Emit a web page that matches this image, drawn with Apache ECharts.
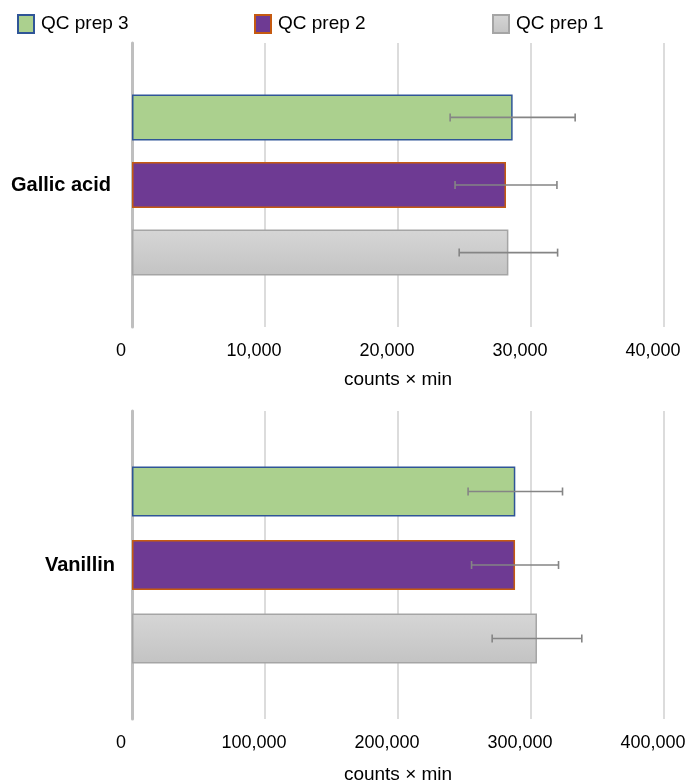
<!DOCTYPE html>
<html>
<head>
<meta charset="utf-8">
<script src="https://cdn.jsdelivr.net/npm/echarts@6/dist/echarts.min.js"></script>
<style>
  html, body { margin: 0; padding: 0; background: #fff; }
  #chart { width: 686px; height: 782px; }
</style>
</head>
<body>
<div id="chart"></div>
<script>
// data, top bar first
var seriesNames = ["QC prep 3", "QC prep 2", "QC prep 1"];

var gallicCategory = ["Gallic acid"];
var gallicValues = [28620, 28120, 28300]; // prep 3, 2, 1
var gallicErrors = [4700, 3830, 3700];
var gallicTicks = [0, 10000, 20000, 30000, 40000];

var vanillinCategory = ["Vanillin"];
var vanillinValues = [288200, 288000, 304500];
var vanillinErrors = [35500, 32700, 33700];
var vanillinTicks = [0, 100000, 200000, 300000, 400000];

var axisName = "counts × min";

var FONT = "Liberation Sans, Arial, Helvetica, sans-serif";

var styles = [
  { color: "#abd08e", borderColor: "#2f5597", borderWidth: 1.5 }, // prep 3
  { color: "#6e3a93", borderColor: "#c55a11", borderWidth: 1.5 }, // prep 2
  { // prep 1 - grey gradient
    color: new echarts.graphic.LinearGradient(0, 0, 0, 1, [
      { offset: 0, color: "#d6d6d6" },
      { offset: 1, color: "#c3c3c3" }
    ]),
    borderColor: "#a5a5a5", borderWidth: 1.5
  }
];

var chart = echarts.init(document.getElementById("chart"));

function fmt(v) {
  return Number(v).toLocaleString("en-US");
}

function buildPanel(idx, cats, values, errors, ticks, barW, labelMargin, nameGap) {
  var spacing = barW * 1.47;
  var series = [];
  seriesNames.forEach(function (name, i) {
    series.push({
      name: name,
      type: "bar",
      xAxisIndex: idx,
      yAxisIndex: idx,
      barWidth: barW,
      barGap: "47%",
      itemStyle: styles[i],
      data: [values[i]],
      z: 2
    });
  });
  // error bars
  var errData = values.map(function (v, i) {
    return [0, v - errors[i], v + errors[i], i];
  });
  series.push({
    type: "custom",
    xAxisIndex: idx,
    yAxisIndex: idx,
    z: 5,
    silent: true,
    renderItem: function (params, api) {
      var cat = api.value(0);
      var lo = api.coord([api.value(1), cat]);
      var hi = api.coord([api.value(2), cat]);
      var slot = api.value(3);
      var y = lo[1] + (slot - 1) * spacing;
      var cap = 4;
      var st = { stroke: "#858585", lineWidth: 1.6 };
      return {
        type: "group",
        children: [
          { type: "line", shape: { x1: lo[0], y1: y, x2: hi[0], y2: y }, style: st },
          { type: "line", shape: { x1: lo[0], y1: y - cap, x2: lo[0], y2: y + cap }, style: st },
          { type: "line", shape: { x1: hi[0], y1: y - cap, x2: hi[0], y2: y + cap }, style: st }
        ]
      };
    },
    data: errData
  });

  var xAxis = {
    gridIndex: idx,
    type: "value",
    min: ticks[0],
    max: ticks[ticks.length - 1],
    interval: ticks[1] - ticks[0],
    name: axisName,
    nameLocation: "middle",
    nameGap: nameGap,
    nameTextStyle: { fontFamily: FONT, fontSize: 19, color: "#000" },
    axisLine: { show: false },
    axisTick: { show: false },
    axisLabel: {
      fontFamily: FONT, fontSize: 18, color: "#000", margin: 15,
      padding: [0, 22, 0, 0],
      formatter: fmt
    },
    splitLine: { show: true, lineStyle: { color: "#dcdcdc", width: 2 } }
  };
  var yAxis = {
    gridIndex: idx,
    type: "category",
    data: cats,
    axisLine: { show: true, lineStyle: { color: "#bfbfbf", width: 3 } },
    axisTick: { show: false },
    axisLabel: {
      fontFamily: FONT, fontSize: 20, fontWeight: "bold", color: "#000",
      margin: labelMargin
    }
  };
  return { series: series, xAxis: xAxis, yAxis: yAxis };
}

var gallicPanel = buildPanel(0, gallicCategory, gallicValues, gallicErrors, gallicTicks, 46, 21, 43);
var vanillinPanel = buildPanel(1, vanillinCategory, vanillinValues, vanillinErrors, vanillinTicks, 50, 17, 46);

var legendLeft = [12, 249, 487];
var legends = seriesNames.map(function (name, i) {
  return {
    data: [name],
    left: legendLeft[i],
    top: 9,
    icon: "rect",
    itemWidth: 16,
    itemHeight: 18,
    textStyle: { fontFamily: FONT, fontSize: 19, color: "#000", padding: [0, 0, 0, 2] },
    selectedMode: false
  };
});

var option = {
  animation: false,
  backgroundColor: "#fff",
  legend: legends,
  grid: [
    { left: 132, right: 22, top: 43, height: 284, outerBoundsMode: "none" },
    { left: 132, right: 22, top: 411, height: 308, outerBoundsMode: "none" }
  ],
  xAxis: [gallicPanel.xAxis, vanillinPanel.xAxis],
  yAxis: [gallicPanel.yAxis, vanillinPanel.yAxis],
  series: gallicPanel.series.concat(vanillinPanel.series)
};

chart.setOption(option);
</script>
</body>
</html>
